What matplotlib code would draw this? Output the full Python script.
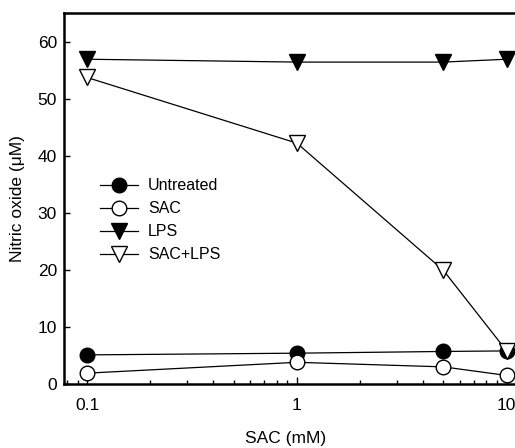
import matplotlib
matplotlib.use("Agg")
import matplotlib.pyplot as plt
from matplotlib.ticker import LogLocator, NullFormatter

plt.rcParams['font.family'] = ['Liberation Sans', 'DejaVu Sans']

conc = [0.1, 1, 5, 10]
untreated = [5.1, 5.4, 5.7, 5.8]
sac = [1.9, 3.8, 3.0, 1.5]
lps = [56.9, 56.4, 56.4, 56.9]
sac_lps = [53.7, 42.2, 19.9, 5.8]

fig = plt.figure(figsize=(5.15, 4.48), dpi=100)
ax = fig.add_axes([64/515, 1-384/448, (515-64)/515 + 0.01, (384-13)/448])

ms = 10.5
ax.plot(conc, untreated, '-', color='black', lw=0.9, marker='o', ms=ms,
        mfc='black', mec='black', mew=1, label='Untreated')
ax.plot(conc, sac, '-', color='black', lw=0.9, marker='o', ms=ms,
        mfc='white', mec='black', mew=1, label='SAC')
ax.plot(conc, lps, '-', color='black', lw=0.9, marker='v', ms=ms + 0.5,
        mfc='black', mec='black', mew=1, label='LPS')
ax.plot(conc, sac_lps, '-', color='black', lw=0.9, marker='v', ms=ms + 0.5,
        mfc='white', mec='black', mew=1, label='SAC+LPS')

ax.set_xscale('log')
ax.set_xlim(0.0776, 11.6)
ax.set_ylim(0, 65)
ax.set_xticks([0.1, 1, 10])
ax.set_xticklabels(['0.1', '1', '10'])
ax.xaxis.set_minor_locator(LogLocator(base=10, subs=range(2, 10)))
ax.xaxis.set_minor_formatter(NullFormatter())
ax.set_yticks([0, 10, 20, 30, 40, 50, 60])

for s in ['left', 'top', 'bottom', 'right']:
    ax.spines[s].set_linewidth(1.8)

ax.tick_params(axis='both', which='major', direction='in', length=4, width=1,
               labelsize=12.5, pad=5)
ax.tick_params(axis='x', which='major', length=5, pad=10)
ax.tick_params(axis='x', which='minor', direction='in', length=3, width=1)
ax.tick_params(axis='y', which='minor', left=False)

ax.set_xlabel('SAC (mM)', fontsize=12.5)
ax.set_ylabel('Nitric oxide (\u03bcM)', fontsize=12.5)
ax.xaxis.set_label_coords((285-64)/(515-64+5), -0.126)
ax.yaxis.set_label_coords(-(64-25)/(515-64+5), 0.5)

leg = ax.legend(loc='upper left', bbox_to_anchor=(0.065, 0.572), frameon=False,
                fontsize=11.5, handlelength=2.4, handletextpad=0.6,
                labelspacing=0.5, borderaxespad=0)

fig.savefig('out.png', dpi=100)
